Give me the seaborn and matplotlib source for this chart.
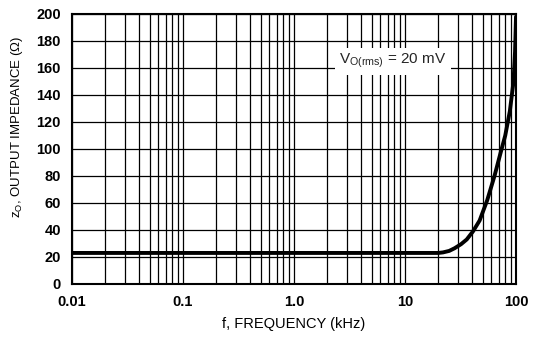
import matplotlib
matplotlib.use("Agg")
import matplotlib.pyplot as plt
from matplotlib.ticker import FixedLocator, LogLocator, NullFormatter
import pandas as pd
import seaborn as sns

# Valeurs
freq_khz = [0.01, 0.1, 1.0, 10, 20, 22, 25, 28, 32, 36, 41, 47, 55, 64, 72, 80, 88, 95, 98, 100]
impedance = [23, 23, 23, 23, 23, 23.4, 24.5, 26.5, 29.5, 33, 39, 47, 62, 80, 96, 110, 128, 150, 172, 198]

x_ticks = [0.01, 0.1, 1.0, 10, 100]
x_tick_labels = ["0.01", "0.1", "1.0", "10", "100"]
y_ticks = [0, 20, 40, 60, 80, 100, 120, 140, 160, 180, 200]

df = pd.DataFrame({"f": freq_khz, "z": impedance})

sns.set_style("white")
plt.rcParams["font.family"] = ["Liberation Sans", "DejaVu Sans"]
plt.rcParams["mathtext.fontset"] = "custom"
plt.rcParams["mathtext.rm"] = "Liberation Sans"
plt.rcParams["mathtext.it"] = "Liberation Sans"

fig = plt.figure(figsize=(5.35, 3.37), dpi=100)
ax = fig.add_axes([0.1346, 0.1573, 0.8299, 0.8012])

sns.lineplot(data=df, x="f", y="z", ax=ax, color="black", linewidth=2.8, sort=False)

ax.set_xscale("log")
ax.set_xlim(0.01, 100)
ax.set_ylim(0, 200)

ax.xaxis.set_major_locator(FixedLocator(x_ticks))
ax.set_xticklabels(x_tick_labels)
ax.xaxis.set_minor_locator(LogLocator(base=10, subs=range(2, 10)))
ax.xaxis.set_minor_formatter(NullFormatter())
ax.set_yticks(y_ticks)

ax.grid(which="both", axis="x", color="black", linewidth=0.9)
ax.grid(which="major", axis="y", color="black", linewidth=0.9)
ax.set_axisbelow(True)

for s in ax.spines.values():
    s.set_color("black")
    s.set_linewidth(1.5)

ax.tick_params(which="both", length=0, pad=8, labelsize=10.5, colors="black")
for lbl in ax.get_xticklabels() + ax.get_yticklabels():
    lbl.set_fontweight("bold")

ax.set_xlabel("f, FREQUENCY (kHz)", fontsize=10.5, color="black", labelpad=6)
ax.set_ylabel(r"z$_\mathrm{O}$, OUTPUT IMPEDANCE ($\Omega$)", fontsize=9.5, color="black")
ax.yaxis.set_label_coords(-0.105, 0.58)

ax.text(2.55, 165, r"V$_\mathrm{O(rms)}$ = 20 mV", fontsize=11, va="center", ha="left",
        bbox=dict(facecolor="white", edgecolor="none", pad=3))

fig.savefig("out.png", dpi=100)
